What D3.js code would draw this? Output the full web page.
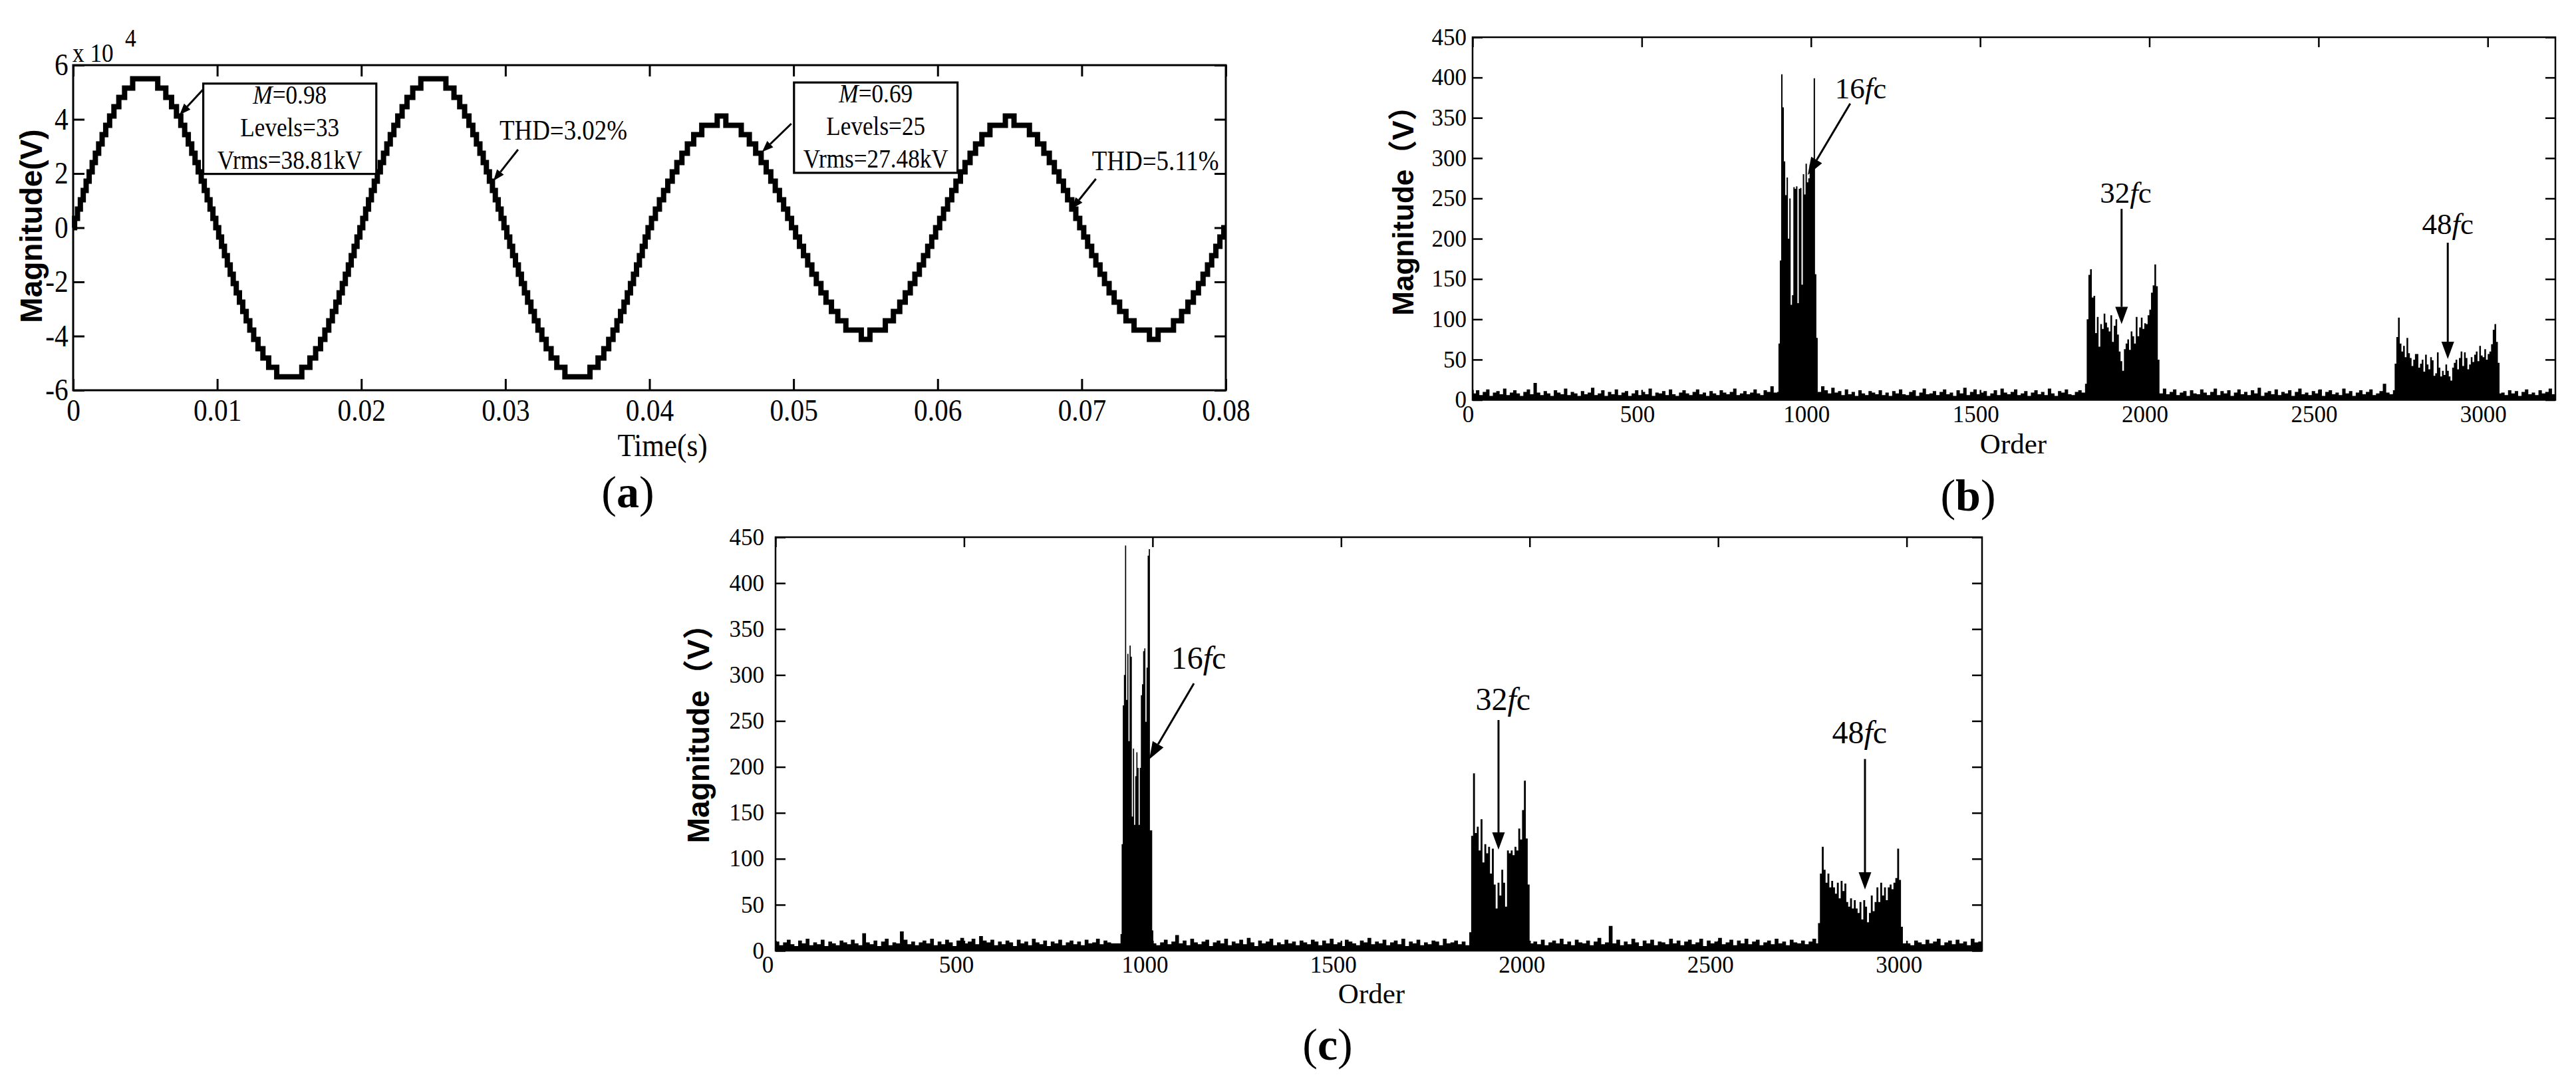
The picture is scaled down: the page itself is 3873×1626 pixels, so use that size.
<!DOCTYPE html>
<html>
<head>
<meta charset="utf-8">
<script src="https://cdn.jsdelivr.net/npm/d3@7"></script>
<style>
  body { margin: 0; background: #fff; }
  svg { display: block; }
  svg text { font-family: "Liberation Serif", "Times New Roman", serif; fill: #000; }
</style>
</head>
<body>
<div id="chart"></div>
<script>
// ---------- (a) staircase output voltage ----------
const timeTicks = [0, 0.01, 0.02, 0.03, 0.04, 0.05, 0.06, 0.07, 0.08];
const voltTicks = [-6, -4, -2, 0, 2, 4, 6];            // x 10^4 V
const stepVolt = 3437.5;                               // one module level, V
const periodMs = 20;
// quarter-wave switching instants (ms), one per level
const switchA = [0.10, 0.30, 0.50, 0.70, 0.90, 1.11, 1.32, 1.54, 1.77, 2.01, 2.26, 2.53, 2.83, 3.17, 3.57, 4.13]; // M=0.98
const switchB = [0.14, 0.41, 0.69, 0.98, 1.27, 1.58, 1.90, 2.25, 2.63, 3.07, 3.63, 4.70];                         // M=0.69
const cycles = [switchA, switchA, switchB, switchB];

// ---------- (b), (c) harmonic spectra ----------
const orderTicks = [0, 500, 1000, 1500, 2000, 2500, 3000];
const magTicks = [0, 50, 100, 150, 200, 250, 300, 350, 400, 450];
const floorStep = 10; // orders between floor readings

const floorB = [
  8, 12, 6, 10, 13, 5, 9, 11, 7, 14, 6, 9, 12, 8, 5, 10, 13, 7, 21, 9,
  6, 11, 8, 5, 12, 9, 7, 14, 6, 10, 8, 5, 11, 7, 9, 15, 6, 8, 12, 5,
  10, 7, 13, 6, 9, 11, 5, 8, 12, 6, 10, 7, 14, 5, 9, 8, 11, 6, 13, 7,
  5, 9, 12, 8, 6, 10, 13, 7, 9, 5, 11, 8, 6, 12, 9, 7, 10, 14, 6, 8,
  11, 7, 9, 13, 8, 6, 12, 10, 17, 9, 8, 8, 8, 8, 8, 8, 8, 8, 8, 8,
  8, 8, 10, 17, 12, 8, 15, 9, 11, 6, 13, 7, 10, 5, 12, 8, 6, 11, 9, 7,
  12, 6, 9, 5, 11, 8, 13, 7, 6, 10, 12, 5, 9, 14, 7, 8, 11, 6, 10, 13,
  7, 9, 5, 12, 8, 15, 6, 10, 13, 7, 9, 11, 5, 8, 12, 6, 14, 9, 7, 10,
  13, 6, 8, 11, 5, 9, 12, 7, 10, 6, 14, 8, 5, 11, 9, 13, 7, 6, 10, 12,
  9, 8, 8, 8, 8, 8, 8, 8, 8, 8, 8, 8, 8, 8, 8, 8, 8, 8, 8, 8,
  8, 8, 8, 8, 14, 7, 10, 13, 6, 9, 11, 5, 12, 8, 7, 13, 9, 6, 10, 14,
  6, 11, 8, 12, 5, 9, 13, 7, 10, 6, 12, 8, 15, 5, 9, 11, 7, 13, 6, 10,
  8, 12, 5, 10, 14, 7, 9, 6, 11, 8, 13, 5, 10, 12, 7, 9, 6, 14, 8, 11,
  5, 9, 12, 7, 10, 13, 6, 8, 11, 20, 9, 7, 8, 8, 8, 8, 8, 8, 8, 8,
  8, 8, 8, 8, 8, 8, 8, 8, 8, 8, 8, 8, 8, 8, 8, 8, 8, 8, 8, 8,
  8, 8, 8, 8, 9, 6, 12, 8, 11, 5, 10, 13, 7, 9, 6, 12, 8, 10, 14, 7,
  7
];
const band16B = [10, 70, 173, 404, 363, 296, 254, 276, 200, 250, 118, 130, 264, 262, 265, 120,
  262, 263, 143, 280, 255, 293, 270, 275, 292, 285, 290, 399, 156, 77, 12];
const band32B = [20, 100, 155, 162, 127, 129, 83, 103, 66, 94, 88, 107, 96, 90, 85, 105, 72, 92,
  100, 81, 60, 48, 36, 63, 70, 75, 62, 85, 79, 70, 103, 79, 90, 102, 88, 95, 94, 105, 112, 133,
  142, 168, 141, 50, 12];
const band48B = [12, 45, 78, 102, 70, 60, 67, 53, 77, 58, 52, 42, 50, 57, 57, 40, 45, 50, 35, 56,
  44, 38, 53, 49, 30, 33, 59, 40, 29, 36, 31, 44, 36, 29, 24, 40, 46, 50, 38, 52, 60, 42, 59, 52,
  38, 44, 53, 47, 56, 60, 48, 67, 55, 53, 63, 50, 57, 60, 69, 87, 94, 72, 46, 10];
// [first order, order step, magnitudes]
const bandsB = [[900, 4, band16B], [1810, 5, band32B], [2720, 5, band48B]];

const floorC = [
  10, 6, 9, 12, 7, 5, 11, 8, 13, 6, 9, 7, 12, 5, 10, 8, 6, 11, 9, 7,
  12, 8, 6, 19, 9, 7, 11, 5, 10, 13, 6, 9, 8, 21, 12, 7, 10, 6, 9, 11,
  8, 13, 6, 10, 7, 12, 9, 5, 11, 14, 8, 10, 13, 7, 16, 11, 9, 12, 6, 10,
  7, 11, 9, 5, 12, 8, 10, 6, 13, 9, 7, 11, 5, 10, 8, 12, 6, 9, 11, 7,
  10, 6, 12, 8, 9, 13, 7, 11, 9, 8, 8, 8, 8, 8, 8, 8, 8, 8, 8, 8,
  8, 6, 9, 12, 7, 10, 17, 8, 11, 6, 13, 9, 7, 10, 12, 5, 9, 11, 8, 13,
  6, 10, 8, 12, 7, 14, 9, 5, 11, 8, 10, 13, 6, 9, 7, 12, 8, 10, 6, 11,
  9, 7, 12, 10, 6, 11, 8, 13, 7, 9, 5, 12, 10, 8, 6, 11, 9, 14, 7, 10,
  8, 12, 6, 9, 11, 7, 13, 5, 10, 8, 12, 6, 9, 7, 11, 10, 6, 13, 8, 9,
  11, 7, 10, 6, 8, 8, 8, 8, 8, 8, 8, 8, 8, 8, 8, 8, 8, 8, 8, 8,
  8, 10, 7, 12, 6, 9, 11, 8, 13, 7, 10, 6, 12, 9, 8, 11, 6, 10, 14, 7,
  9, 27, 8, 12, 6, 10, 7, 13, 9, 5, 11, 8, 12, 6, 10, 9, 7, 13, 8, 11,
  6, 10, 12, 7, 9, 13, 5, 11, 8, 10, 14, 7, 9, 12, 6, 11, 8, 13, 7, 10,
  12, 6, 9, 11, 7, 13, 8, 10, 6, 12, 9, 8, 11, 7, 10, 13, 8, 8, 8, 8,
  8, 8, 8, 8, 8, 8, 8, 8, 8, 8, 8, 8, 8, 8, 8, 8, 8, 8, 8, 8,
  8, 6, 11, 9, 7, 12, 8, 10, 13, 6, 9, 11, 7, 12, 8, 10, 6, 13, 9, 10,
  8
];
const band16C = [18, 116, 267, 300, 441, 273, 323, 228, 332, 320, 146, 220, 137, 190, 216, 199,
  137, 199, 278, 290, 326, 329, 249, 308, 430, 437, 131, 131, 22, 8];
const band32C = [20, 125, 193, 128, 135, 109, 143, 96, 116, 106, 113, 84, 111, 72, 46, 74, 60, 88,
  74, 48, 109, 106, 109, 104, 113, 109, 133, 121, 153, 185, 122, 72, 12];
const band48C = [30, 84, 113, 88, 74, 84, 69, 76, 69, 62, 74, 57, 76, 65, 73, 53, 48, 57, 46, 55,
  46, 41, 53, 34, 55, 48, 31, 41, 60, 43, 53, 69, 53, 74, 60, 69, 55, 69, 72, 67, 74, 79, 111,
  77, 26, 10];
const bandsC = [[915, 3, band16C], [1840, 5, band32C], [2765, 5, band48C]];

// ---------- drawing ----------
const svg = d3.select("#chart").append("svg").attr("width", 3873).attr("height", 1626);

// text placed at (x, y), optionally squeezed horizontally
function txt(g, x, y, size, anchor, sx = 1) {
  return g.append("text")
    .attr("transform", `translate(${x},${y}) scale(${sx},1)`)
    .attr("text-anchor", anchor)
    .style("font-size", size + "px");
}

function arrow(g, x1, y1, x2, y2, len, half, lw) {
  const a = Math.atan2(y2 - y1, x2 - x1);
  const bx = x2 - len * Math.cos(a), by = y2 - len * Math.sin(a);
  const px = -Math.sin(a) * half, py = Math.cos(a) * half;
  g.append("line").attr("x1", x1).attr("y1", y1).attr("x2", bx).attr("y2", by)
    .attr("stroke", "#000").attr("stroke-width", lw);
  g.append("path").attr("d", `M${x2},${y2}L${bx + px},${by + py}L${bx - px},${by - py}Z`).attr("fill", "#000");
}

// MATLAB-like box with inward ticks on all four sides
function frame(g, x, y, o) {
  const [x0, x1] = x.range(), [yb, yt] = y.range();
  const fmt = d => String(d);
  const fix = (sel, showText) => {
    sel.attr("font-family", null).attr("font-size", null);
    sel.select(".domain").remove();
    sel.selectAll(".tick line").attr("stroke", "#000").attr("stroke-width", o.lw);
    if (!showText) sel.selectAll(".tick text").remove();
    sel.selectAll(".tick text").attr("fill", "#000").style("font-size", o.font + "px")
      .attr("transform", `scale(${o.sx},1)`);
  };
  const bottom = g.append("g").attr("transform", `translate(0,${yb})`)
    .call(d3.axisBottom(x).tickValues(o.xt).tickSize(-o.tick).tickPadding(o.xpad).tickFormat(fmt));
  fix(bottom, true);
  bottom.selectAll(".tick text").attr("dx", o.xdx || 0);
  fix(g.append("g").attr("transform", `translate(0,${yt})`)
    .call(d3.axisTop(x).tickValues(o.xt).tickSize(-o.tick)), false);
  fix(g.append("g").attr("transform", `translate(${x0},0)`)
    .call(d3.axisLeft(y).tickValues(o.yt).tickSize(-o.tick).tickPadding(o.ypad).tickFormat(fmt)), true);
  fix(g.append("g").attr("transform", `translate(${x1},0)`)
    .call(d3.axisRight(y).tickValues(o.yt).tickSize(-o.tick)), false);
  g.append("rect").attr("x", x0).attr("y", yt).attr("width", x1 - x0).attr("height", yb - yt)
    .attr("fill", "none").attr("stroke", "#000").attr("stroke-width", o.lw);
}

function yTitle(g, x, y, size, str) {
  g.append("text").attr("transform", `translate(${x},${y}) rotate(-90)`)
    .attr("text-anchor", "middle")
    .style("font-family", '"Liberation Sans", Arial, "Noto Sans CJK SC", sans-serif')
    .style("font-weight", "bold").style("font-size", size + "px").text(str);
}

function caption(g, x, y, letter) {
  const t = txt(g, x, y, 68, "middle");
  t.append("tspan").text("(");
  t.append("tspan").style("font-weight", "bold").text(letter);
  t.append("tspan").text(")");
}

// ----- panel (a) -----
{
  const g = svg.append("g");
  const x = d3.scaleLinear().domain([0, 0.08]).range([110, 1843]);
  const y = d3.scaleLinear().domain([-6, 6]).range([587, 98]);
  const sx = 0.9;

  const stairs = [[0, 0]];
  cycles.forEach((sw, c) => {
    const t0 = c * periodMs, n = sw.length;
    sw.forEach((s, k) => stairs.push([t0 + s, k + 1]));
    for (let k = n - 1; k >= 0; k--) stairs.push([t0 + periodMs / 2 - sw[k], k]);
    sw.forEach((s, k) => stairs.push([t0 + periodMs / 2 + s, -(k + 1)]));
    for (let k = n - 1; k >= 0; k--) stairs.push([t0 + periodMs - sw[k], -k]);
  });
  stairs.push([cycles.length * periodMs, 0]);

  const line = d3.line()
    .x(d => x(d[0] / 1000))
    .y(d => y(d[1] * stepVolt / 1e4))
    .curve(d3.curveStepAfter);
  g.append("path").datum(stairs).attr("d", line)
    .attr("fill", "none").attr("stroke", "#000").attr("stroke-width", 8)
    .attr("stroke-linejoin", "miter");

  frame(g, x, y, { xt: timeTicks, yt: voltTicks, tick: 17, lw: 3, font: 46, sx, xpad: 13, ypad: 8 });

  // exponent
  txt(g, 109, 93, 40, "start", 0.88).text("x 10");
  txt(g, 188, 70, 38, "start", 0.88).text("4");

  yTitle(g, 63, 340, 46, "Magnitude(V)");
  txt(g, 996, 686, 48, "middle", sx).text("Time(s)");

  // boxes with run parameters
  const boxes = [
    { t0: 0.00903, t1: 0.02104, v0: 5.32, v1: 1.985, m: "0.98", lv: "33", rms: "38.81kV" },
    { t0: 0.05003, t1: 0.06138, v0: 5.36, v1: 2.025, m: "0.69", lv: "25", rms: "27.48kV" }
  ];
  boxes.forEach(b => {
    g.append("rect").attr("x", x(b.t0)).attr("y", y(b.v0))
      .attr("width", x(b.t1) - x(b.t0)).attr("height", y(b.v1) - y(b.v0))
      .attr("fill", "#fff").attr("stroke", "#000").attr("stroke-width", 3.2);
    const cx = (x(b.t0) + x(b.t1)) / 2, top = y(b.v0);
    const t1 = txt(g, cx, top + 30, 40, "middle", 0.88);
    t1.append("tspan").style("font-style", "italic").text("M");
    t1.append("tspan").text("=" + b.m);
    txt(g, cx, top + 79, 40, "middle", 0.88).text("Levels=" + b.lv);
    txt(g, cx, top + 128, 40, "middle", 0.88).text("Vrms=" + b.rms);
  });

  // pointers: [t start, v start, t tip, v tip]
  const pointers = [
    [0.009, 5.09, 0.007385, 4.167],
    [0.030877, 2.883, 0.029169, 1.73],
    [0.049846, 3.84, 0.047815, 2.795],
    [0.070985, 1.804, 0.069323, 0.699]
  ];
  pointers.forEach(p => arrow(g, x(p[0]), y(p[1]), x(p[2]), y(p[3]), 17, 6.5, 3));
  txt(g, x(0.029585), y(3.252), 42, "start", 0.88).text("THD=3.02%");
  txt(g, x(0.07071), y(2.123), 42, "start", 0.88).text("THD=5.11%");

  caption(g, 944, 763, "a");
}

// ----- panels (b) and (c) -----
function spectrum(cfg) {
  const g = svg.append("g");
  const x = d3.scaleLinear().domain([0, 3200]).range(cfg.xr);
  const y = d3.scaleLinear().domain([0, 450]).range(cfg.yr);
  const clipId = "clip" + cfg.letter;
  g.append("clipPath").attr("id", clipId).append("rect")
    .attr("x", cfg.xr[0]).attr("y", cfg.yr[1])
    .attr("width", cfg.xr[1] - cfg.xr[0]).attr("height", cfg.yr[0] - cfg.yr[1]);

  const area = d3.area()
    .x(d => x(d[0])).y0(y(0)).y1(d => y(d[1]))
    .curve(d3.curveStepAfter);
  const plot = g.append("g").attr("clip-path", `url(#${clipId})`);
  plot.append("path").datum(cfg.floor.map((v, i) => [i * floorStep, v]))
    .attr("d", area).attr("fill", "#000");
  cfg.bands.forEach(([start, step, vals]) => {
    plot.append("path").datum(vals.map((v, i) => [start + i * step, v]))
      .attr("d", area).attr("fill", "#000");
  });

  frame(g, x, y, { xt: orderTicks, yt: magTicks, tick: 15, lw: 2.5, font: 35, sx: 1,
    xpad: cfg.xpad, ypad: cfg.ypad, xdx: cfg.xdx });

  yTitle(g, cfg.yTitle[0], cfg.yTitle[1], cfg.yTitleSize, "Magnitude（V）");
  txt(g, cfg.xTitle[0], cfg.xTitle[1], 43, "middle").text("Order");

  // carrier-band labels: [label order, label mag, start order, start mag, tip order, tip mag]
  cfg.notes.forEach(([name, lo, lv, so, sv, to, tv]) => {
    const t = txt(g, x(lo), y(lv), cfg.noteSize, "middle");
    t.append("tspan").text(name);
    t.append("tspan").style("font-style", "italic").text("f");
    t.append("tspan").text("c");
    arrow(g, x(so), y(sv), x(to), y(tv), 26, 9.5, 3);
  });

  caption(g, cfg.caption[0], cfg.caption[1], cfg.letter);
}

spectrum({
  letter: "b", xr: [2214, 3842], yr: [601.5, 56], floor: floorB, bands: bandsB,
  xpad: 9, ypad: 9, xdx: -7, yTitle: [2125, 306], yTitleSize: 44, xTitle: [3027, 682],
  noteSize: 45, caption: [2959, 768],
  notes: [
    ["16", 1147, 374.5, 1116, 367.8, 990.7, 279.2],
    ["32", 1930, 245, 1918, 237, 1918, 94],
    ["48", 2882, 205.8, 2882, 195, 2882, 50.7]
  ]
});

spectrum({
  letter: "c", xr: [1166, 2980], yr: [1430, 808], floor: floorC, bands: bandsC,
  xpad: 8, ypad: 17, xdx: -12, yTitle: [1066, 1092], yTitleSize: 46, xTitle: [2062, 1509],
  noteSize: 48, caption: [1996, 1594],
  notes: [
    ["16", 1122, 306.8, 1109.6, 290.8, 991.4, 208.4],
    ["32", 1929.5, 262, 1917.5, 251, 1917.5, 110],
    ["48", 2875, 225.7, 2889.5, 208.6, 2889.5, 66.5]
  ]
});
</script>
</body>
</html>
